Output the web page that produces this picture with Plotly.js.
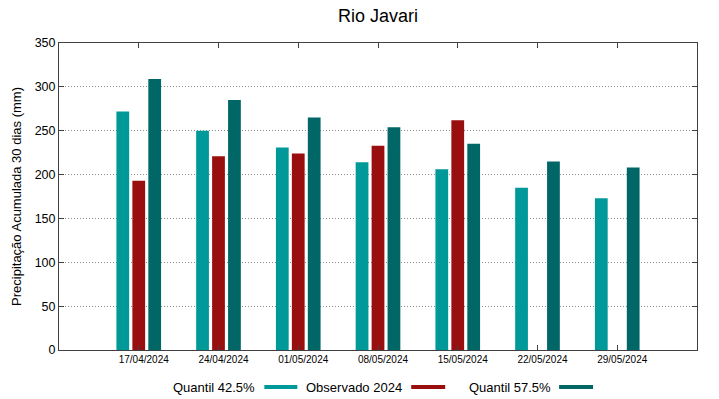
<!DOCTYPE html>
<html>
<head>
<meta charset="utf-8">
<script src="https://cdn.plot.ly/plotly-3.0.1.min.js"></script>
<style>html,body{margin:0;padding:0;background:#fff;}#chart{width:719px;height:399px;}</style>
</head>
<body>
<div id="chart"></div>
<script>
const categories = ["17/04/2024","24/04/2024","01/05/2024","08/05/2024","15/05/2024","22/05/2024","29/05/2024"];
const quantil425 = [272, 250, 231, 214, 206, 185, 173];
const observado2024 = [193, 221, 224, 233, 262, null, null];
const quantil575 = [309, 285, 265, 254, 235, 215, 208];
const seriesNames = ["Quantil 42.5%", "Observado 2024", "Quantil 57.5%"];
const yTicks = [0, 50, 100, 150, 200, 250, 300, 350];

const colors = ["#009999", "#990e0e", "#006666"];
const font = "Liberation Sans, Arial, sans-serif";

const xIdx = categories.map((c, i) => i);
const traces = [quantil425, observado2024, quantil575].map((vals, k) => ({
  type: "bar",
  name: seriesNames[k],
  x: xIdx,
  y: vals,
  marker: {color: colors[k], line: {width: 0}},
  showlegend: false,
  hoverinfo: "x+y+name"
}));

// gnuplot-style legend: text followed by a sample swatch
const legendItems = [
  {textRight: 257, swL: 264, swR: 297},
  {textRight: 404, swL: 411, swR: 445},
  {textRight: 553, swL: 559, swR: 593}
];
const W = 719, H = 399;

const layout = {
  width: W, height: H,
  margin: {l: 58.5, r: 22, t: 43, b: 49},
  paper_bgcolor: "#fff", plot_bgcolor: "#fff",
  font: {family: font, size: 12, color: "#000"},
  title: {text: "Rio Javari", font: {family: font, size: 18, color: "#000"}, x: 0.5, xref: "paper", y: 1 - 16/H, yanchor: "middle"},
  barmode: "group",
  bargap: 0.4,
  bargroupgap: 0.2,
  xaxis: {
    type: "linear",
    range: [-1, 7],
    tickvals: xIdx,
    ticktext: categories,
    ticks: "inside", ticklen: 5, tickcolor: "#404040", tickwidth: 1,
    ticklabelshift: 5,
    tickfont: {family: font, size: 10, color: "#000"},
    showline: true, linecolor: "#404040", linewidth: 1, mirror: "ticks",
    showgrid: false, zeroline: false, fixedrange: true
  },
  yaxis: {
    range: [0, 350],
    tickvals: yTicks,
    ticks: "inside", ticklen: 5, tickcolor: "#404040", tickwidth: 1,
    tickfont: {family: font, size: 12.5, color: "#000"},
    showline: true, linecolor: "#404040", linewidth: 1, mirror: "ticks",
    showgrid: true, gridcolor: "#8c8c8c", griddash: "1px,2px", gridwidth: 1,
    zeroline: false,
    title: {text: "Precipitação Acumulada 30 dias (mm)", font: {family: font, size: 13, color: "#000"}, standoff: 10},
    fixedrange: true
  },
  shapes: [],
  annotations: []
};

const plotW = W - 58.5 - 22;
const plotH = H - 43 - 49;
const toPX = px => (px - 58.5) / plotW;
const toPY = py => (H - 49 - py) / plotH;
const legY = 387;
legendItems.forEach((it, k) => {
  layout.annotations.push({
    xref: "paper", yref: "paper",
    x: toPX(it.textRight), y: toPY(legY),
    showarrow: false, text: seriesNames[k],
    font: {family: font, size: 13, color: "#000"},
    xanchor: "right", yanchor: "middle"
  });
  layout.shapes.push({
    type: "rect", xref: "paper", yref: "paper",
    x0: toPX(it.swL), x1: toPX(it.swR),
    y0: toPY(legY + 2), y1: toPY(legY - 2),
    fillcolor: colors[k], line: {width: 0}
  });
});

Plotly.newPlot("chart", traces, layout, {displayModeBar: false, staticPlot: true});
</script>
</body>
</html>
